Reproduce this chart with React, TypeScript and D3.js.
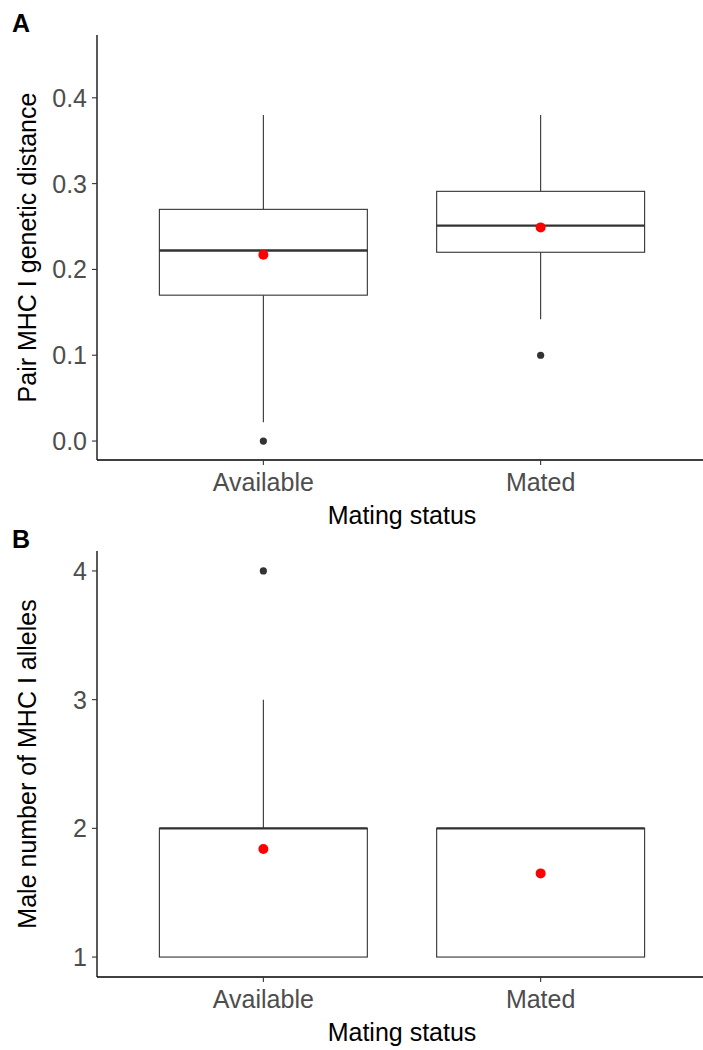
import React from "react";
import * as d3 from "d3";

const categories = ["Available", "Mated"];

// Panel A: pair MHC I genetic distance — [lowerWhisker, q1, median, q3, upperWhisker]
const distStats = [
  [0.022, 0.17, 0.222, 0.27, 0.38],
  [0.142, 0.22, 0.251, 0.291, 0.38],
];
const distMeans = [0.217, 0.249];
const distOutliers = [[0.0], [0.1]];
const distTicks = [0.0, 0.1, 0.2, 0.3, 0.4];

// Panel B: male number of MHC I alleles
const alleleStats = [
  [1, 1, 2, 2, 3],
  [1, 1, 2, 2, 2],
];
const alleleMeans = [1.84, 1.65];
const alleleOutliers = [[4], []];
const alleleTicks = [1, 2, 3, 4];

const FONT = "'Liberation Sans', Arial, Helvetica, sans-serif";
const FS = 25;

type PanelProps = {
  label: string;
  top: number;
  bottom: number;
  domain: [number, number];
  stats: number[][];
  means: number[];
  outliers: number[][];
  ticks: number[];
  fmt: (v: number) => string;
  yTitle: string;
};

function Panel(p: PanelProps) {
  const left = 97;
  const right = 707;
  const x = d3.scaleLinear().domain([0.4, 2.6]).range([left, right]);
  const y = d3.scaleLinear().domain(p.domain).range([p.bottom, p.top]);
  const halfW = x(1.375) - x(1);
  return (
    <g>
      <text x={12} y={p.top - 3} fontFamily={FONT} fontWeight="bold" fontSize={25} fill="#000">
        {p.label}
      </text>
      {p.stats.map((s, i) => {
        const cx = x(i + 1);
        return (
          <g key={i}>
            <line x1={cx} x2={cx} y1={y(s[0])} y2={y(s[1])} stroke="#333" strokeWidth={1.1} />
            <line x1={cx} x2={cx} y1={y(s[3])} y2={y(s[4])} stroke="#333" strokeWidth={1.1} />
            <rect
              x={cx - halfW}
              y={y(s[3])}
              width={halfW * 2}
              height={y(s[1]) - y(s[3])}
              fill="#fff"
              stroke="#333"
              strokeWidth={1.1}
            />
            <line x1={cx - halfW} x2={cx + halfW} y1={y(s[2])} y2={y(s[2])} stroke="#333" strokeWidth={2.4} />
            {p.outliers[i].map((o, j) => (
              <circle key={j} cx={cx} cy={y(o)} r={3.6} fill="#333" />
            ))}
            <circle cx={cx} cy={y(p.means[i])} r={5} fill="#ff0000" />
          </g>
        );
      })}
      <line x1={left} x2={left} y1={p.top} y2={p.bottom} stroke="#000" strokeWidth={1.3} />
      <line x1={left} x2={703} y1={p.bottom} y2={p.bottom} stroke="#000" strokeWidth={1.3} />
      {p.ticks.map((t) => (
        <g key={t}>
          <line x1={left - 5} x2={left} y1={y(t)} y2={y(t)} stroke="#333" strokeWidth={1.1} />
          <text
            x={left - 10}
            y={y(t)}
            dy="0.36em"
            textAnchor="end"
            fontFamily={FONT}
            fontSize={FS}
            fill="#4d4d4d"
          >
            {p.fmt(t)}
          </text>
        </g>
      ))}
      {categories.map((c, i) => (
        <g key={c}>
          <line x1={x(i + 1)} x2={x(i + 1)} y1={p.bottom} y2={p.bottom + 5} stroke="#333" strokeWidth={1.1} />
          <text
            x={x(i + 1)}
            y={p.bottom + 30.5}
            textAnchor="middle"
            fontFamily={FONT}
            fontSize={FS}
            fill="#4d4d4d"
          >
            {c}
          </text>
        </g>
      ))}
      <text
        x={(left + right) / 2}
        y={p.bottom + 64}
        textAnchor="middle"
        fontFamily={FONT}
        fontSize={FS}
        fill="#000"
      >
        Mating status
      </text>
      <text
        transform={`translate(36,${(p.top + p.bottom) / 2}) rotate(-90)`}
        textAnchor="middle"
        fontFamily={FONT}
        fontSize={FS}
        fill="#000"
      >
        {p.yTitle}
      </text>
    </g>
  );
}

export default function App() {
  return (
    <div style={{ position: "absolute", left: 0, top: 0 }}>
      <svg width={703} height={1050} style={{ display: "block", background: "#fff" }}>
        <rect width={703} height={1050} fill="#fff" />
        <Panel
          label="A"
          top={35}
          bottom={460}
          domain={[-0.0221, 0.4732]}
          stats={distStats}
          means={distMeans}
          outliers={distOutliers}
          ticks={distTicks}
          fmt={d3.format(".1f")}
          yTitle="Pair MHC I genetic distance"
        />
        <Panel
          label="B"
          top={551}
          bottom={977}
          domain={[0.845, 4.155]}
          stats={alleleStats}
          means={alleleMeans}
          outliers={alleleOutliers}
          ticks={alleleTicks}
          fmt={d3.format("d")}
          yTitle="Male number of MHC I alleles"
        />
      </svg>
    </div>
  );
}
